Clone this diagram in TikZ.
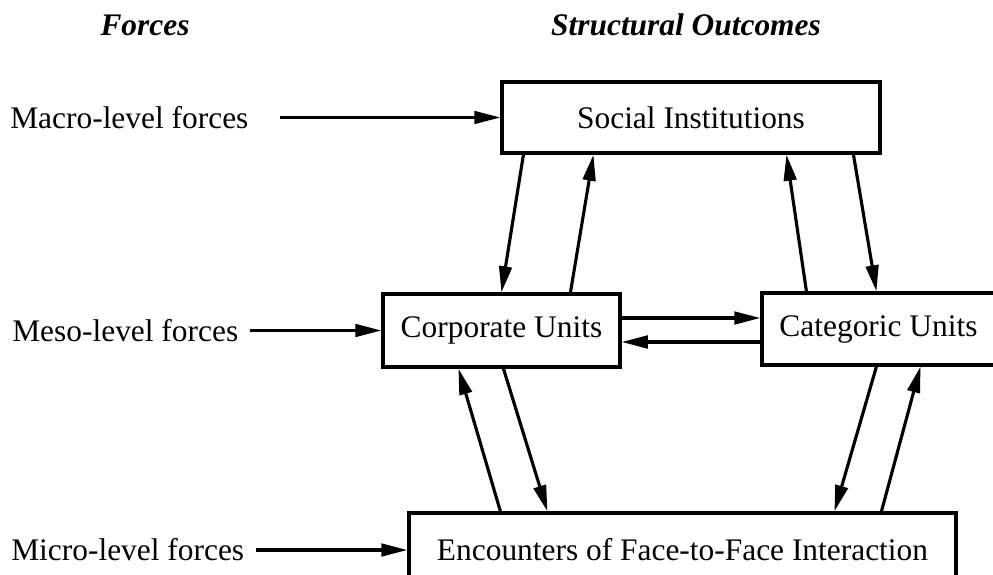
\documentclass[tikz,border=0pt]{standalone}
\usepackage{fontspec}
\setmainfont{Liberation Serif}
\usepackage{tikz}
\usetikzlibrary{positioning, calc, arrows.meta}

\begin{document}
\begin{tikzpicture}[x=0.382pt, y=-0.382pt, line width=1pt, font=\fontsize{12}{14}\selectfont]
	\tikzstyle{unit} = [draw, line width=1.2pt, inner sep=0pt];
	\tikzstyle{force} = [anchor=west, inner sep=0pt];
	\tikzstyle{head} = [font=\fontsize{12}{14}\selectfont\bfseries\itshape];
	\tikzstyle{flow} = [-{Triangle[length=10pt, width=4.8pt]}, line width=1.2pt];
	
	\useasboundingbox (0,0) rectangle (993,575);
	
	\node[head] (forces) at (145,25) {Forces};
	\node[head] (outcomes) at (686,25) {Structural Outcomes};
	
	\node[unit, minimum width=378*0.382pt, minimum height=71*0.382pt] (soc) at (691,117.5) {Social Institutions};
	\node[unit, minimum width=237*0.382pt, minimum height=73*0.382pt] (corp) at (501.5,330.5) {Corporate Units};
	\node[unit, minimum width=233*0.382pt, minimum height=72*0.382pt] (cat) at (878.5,329) {Categoric Units};
	\node[unit, minimum width=547*0.382pt, minimum height=74*0.382pt] (enc) at (682.5,550) {Encounters of Face-to-Face Interaction};
	
	\node[force] (macro) at (9,117.5) {Macro-level forces};
	\node[force] (meso) at (11,330.5) {Meso-level forces};
	\node[force] (micro) at (10,550) {Micro-level forces};
	
	% forces into the units
	\draw[flow] ($(macro.east)+(30,0)$) -- (soc.west);
	\draw[flow] ($(meso.east)+(10,0)$) -- (corp.west);
	\draw[flow] ($(micro.east)+(11,0)$) -- (enc.west);
	
	% institutions <-> units
	\draw[flow] ($(soc.south west)+(23,0)$) -- ($(corp.north west)+(120,0)$);
	\draw[flow] ($(corp.north west)+(189,0)$) -- ($(soc.south west)+(93,0)$);
	\draw[flow] ($(cat.north west)+(46,0)$) -- ($(soc.south west)+(286,0)$);
	\draw[flow] ($(soc.south west)+(353,0)$) -- ($(cat.north west)+(116,0)$);
	
	% corporate <-> categoric
	\coordinate (h1) at ($(corp.east)+(0,-12.5)$);
	\coordinate (h2) at ($(corp.east)+(0,11.5)$);
	\draw[flow] (h1) -- (h1 -| cat.west);
	\draw[flow] (h2 -| cat.west) -- (h2);
	
	% units <-> encounters
	\draw[flow] ($(enc.north west)+(93,0)$) -- ($(corp.south west)+(77,0)$);
	\draw[flow] ($(corp.south west)+(122,0)$) -- ($(enc.north west)+(140,0)$);
	\draw[flow] ($(cat.south west)+(116,0)$) -- ($(enc.north west)+(427,0)$);
	\draw[flow] ($(enc.north west)+(474,0)$) -- ($(cat.south west)+(160,0)$);
	
\end{tikzpicture}
\end{document}
